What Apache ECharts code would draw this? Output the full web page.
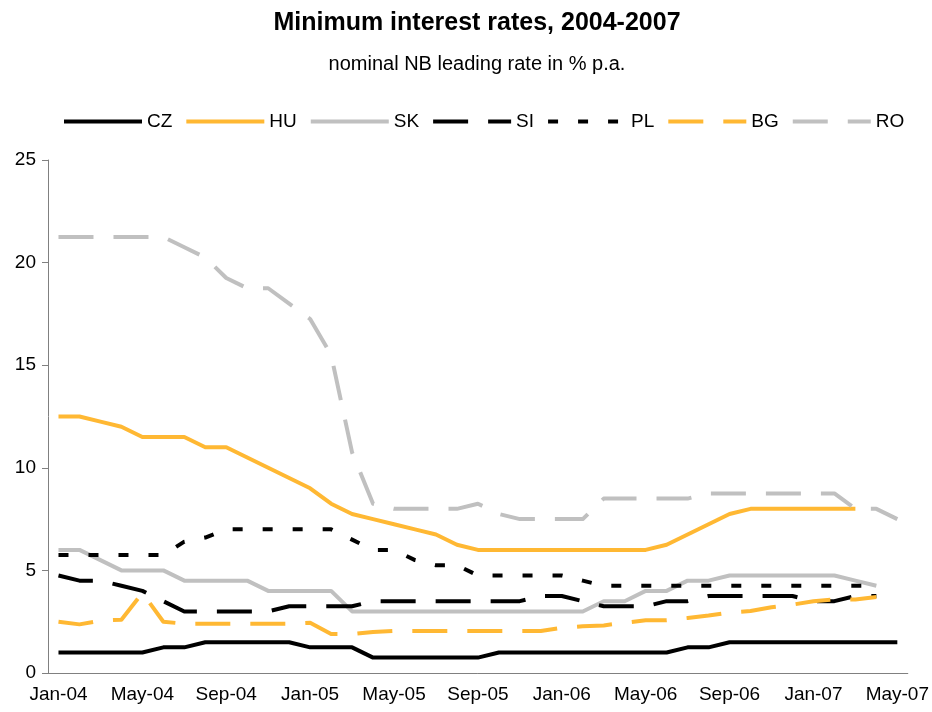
<!DOCTYPE html>
<html>
<head>
<meta charset="utf-8">
<script src="https://cdn.jsdelivr.net/npm/echarts@6/dist/echarts.min.js"></script>
<style>
  html, body { margin: 0; padding: 0; background: #fff; }
  #mychart { width: 932px; height: 712px; }
</style>
</head>
<body>
<div id="mychart"></div>
<script>
// 月份
var months = ['Jan-04', 'Feb-04', 'Mar-04', 'Apr-04', 'May-04', 'Jun-04', 'Jul-04', 'Aug-04', 'Sep-04', 'Oct-04', 'Nov-04', 'Dec-04',
    'Jan-05', 'Feb-05', 'Mar-05', 'Apr-05', 'May-05', 'Jun-05', 'Jul-05', 'Aug-05', 'Sep-05', 'Oct-05', 'Nov-05', 'Dec-05',
    'Jan-06', 'Feb-06', 'Mar-06', 'Apr-06', 'May-06', 'Jun-06', 'Jul-06', 'Aug-06', 'Sep-06', 'Oct-06', 'Nov-06', 'Dec-06',
    'Jan-07', 'Feb-07', 'Mar-07', 'Apr-07', 'May-07'];

var cz = [1, 1, 1, 1, 1, 1.25, 1.25, 1.5, 1.5, 1.5, 1.5, 1.5,
    1.25, 1.25, 1.25, 0.75, 0.75, 0.75, 0.75, 0.75, 0.75, 1, 1, 1,
    1, 1, 1, 1, 1, 1, 1.25, 1.25, 1.5, 1.5, 1.5, 1.5,
    1.5, 1.5, 1.5, 1.5, 1.5];
var hu = [12.5, 12.5, 12.25, 12, 11.5, 11.5, 11.5, 11, 11, 10.5, 10, 9.5,
    9, 8.25, 7.75, 7.5, 7.25, 7, 6.75, 6.25, 6, 6, 6, 6,
    6, 6, 6, 6, 6, 6.25, 6.75, 7.25, 7.75, 8, 8, 8,
    8, 8, 8, null, null];
var sk = [6, 6, 5.5, 5, 5, 5, 4.5, 4.5, 4.5, 4.5, 4, 4,
    4, 4, 3, 3, 3, 3, 3, 3, 3, 3, 3, 3,
    3, 3, 3.5, 3.5, 4, 4, 4.5, 4.5, 4.75, 4.75, 4.75, 4.75,
    4.75, 4.75, 4.5, 4.25, null];
var si = [4.75, 4.5, 4.5, 4.25, 4, 3.5, 3, 3, 3, 3, 3, 3.25,
    3.25, 3.25, 3.25, 3.5, 3.5, 3.5, 3.5, 3.5, 3.5, 3.5, 3.5, 3.75,
    3.75, 3.5, 3.25, 3.25, 3.25, 3.5, 3.5, 3.75, 3.75, 3.75, 3.75, 3.75,
    3.5, 3.5, 3.75, 3.75, null];
var pl = [5.75, 5.75, 5.75, 5.75, 5.75, 5.75, 6.4, 6.6, 7, 7, 7, 7,
    7, 7, 6.5, 6, 6, 5.5, 5.25, 5.25, 4.75, 4.75, 4.75, 4.75,
    4.75, 4.5, 4.25, 4.25, 4.25, 4.25, 4.25, 4.25, 4.25, 4.25, 4.25, 4.25,
    4.25, 4.25, 4.25, 4.25, null];
var bg = [2.5, 2.37, 2.55, 2.6, 3.9, 2.5, 2.4, 2.4, 2.4, 2.4, 2.4, 2.4,
    2.45, 1.9, 1.9, 2, 2.05, 2.05, 2.05, 2.05, 2.05, 2.05, 2.05, 2.05,
    2.2, 2.28, 2.32, 2.45, 2.57, 2.57, 2.68, 2.8, 2.95, 3.02, 3.2, 3.33,
    3.5, 3.58, 3.58, 3.7, null];
var ro = [21.25, 21.25, 21.25, 21.25, 21.25, 21.25, 20.75, 20.25, 19.25, 18.75, 18.75, 18,
    17.25, 15.5, 10.75, 8.25, 8, 8, 8, 8, 8.25, 7.75, 7.5, 7.5,
    7.5, 7.5, 8.5, 8.5, 8.5, 8.5, 8.5, 8.75, 8.75, 8.75, 8.75, 8.75,
    8.75, 8.75, 8, 8, 7.5];

var orange = '#FFB833';
var grey = '#C0C0C0';
var font = 'Liberation Sans, Arial, sans-serif';

function line(name, data, color, dash) {
    return {
        name: name,
        type: 'line',
        data: data,
        symbol: 'none',
        connectNulls: false,
        lineStyle: { color: color, width: 4, type: dash || 'solid', cap: 'butt', join: 'round' },
        itemStyle: { color: color },
        emphasis: { disabled: true }
    };
}

var myChart = echarts.init(document.getElementById('mychart'));
myChart.setOption({
    animation: false,
    backgroundColor: '#fff',
    title: [{
        text: 'Minimum interest rates, 2004-2007',
        left: 477,
        textAlign: 'center',
        top: 11,
        padding: 0,
        textStyle: { fontFamily: font, fontSize: 25, fontWeight: 'bold', color: '#000' }
    }, {
        text: 'nominal NB leading rate in % p.a.',
        left: 477,
        textAlign: 'center',
        top: 54,
        padding: 0,
        textStyle: { fontFamily: font, fontSize: 20, fontWeight: 'normal', color: '#000' }
    }],
    legend: {
        left: 62,
        top: 112,
        padding: 0,
        itemWidth: 78,
        itemHeight: 16,
        itemGap: 12,
        itemStyle: { opacity: 0 },
        lineStyle: { width: 4 },
        textStyle: { fontFamily: font, fontSize: 19, color: '#000' },
        data: ['CZ', 'HU', 'SK', 'SI', 'PL', 'BG', 'RO']
    },
    grid: { left: 48, right: 24, top: 160, bottom: 39 },
    xAxis: {
        type: 'category',
        data: months,
        boundaryGap: true,
        axisLine: { lineStyle: { color: '#808080', width: 1 } },
        axisTick: { interval: 3, length: 6, lineStyle: { color: '#808080' } },
        axisLabel: { interval: 3, margin: 12, fontFamily: font, fontSize: 19, color: '#000' },
        splitLine: { show: false }
    },
    yAxis: {
        type: 'value',
        min: 0,
        max: 25,
        interval: 5,
        axisLine: { show: true, lineStyle: { color: '#808080', width: 1 } },
        axisTick: { show: true, length: 6, lineStyle: { color: '#808080' } },
        axisLabel: { margin: 12, fontFamily: font, fontSize: 19, color: '#000' },
        splitLine: { show: false }
    },
    series: [
        line('CZ', cz, '#000'),
        line('HU', hu, orange),
        line('SK', sk, grey),
        line('SI', si, '#000', [35, 20]),
        line('PL', pl, '#000', [10, 20]),
        line('BG', bg, orange, [35, 20]),
        line('RO', ro, grey, [35, 20])
    ]
});
</script>
</body>
</html>
